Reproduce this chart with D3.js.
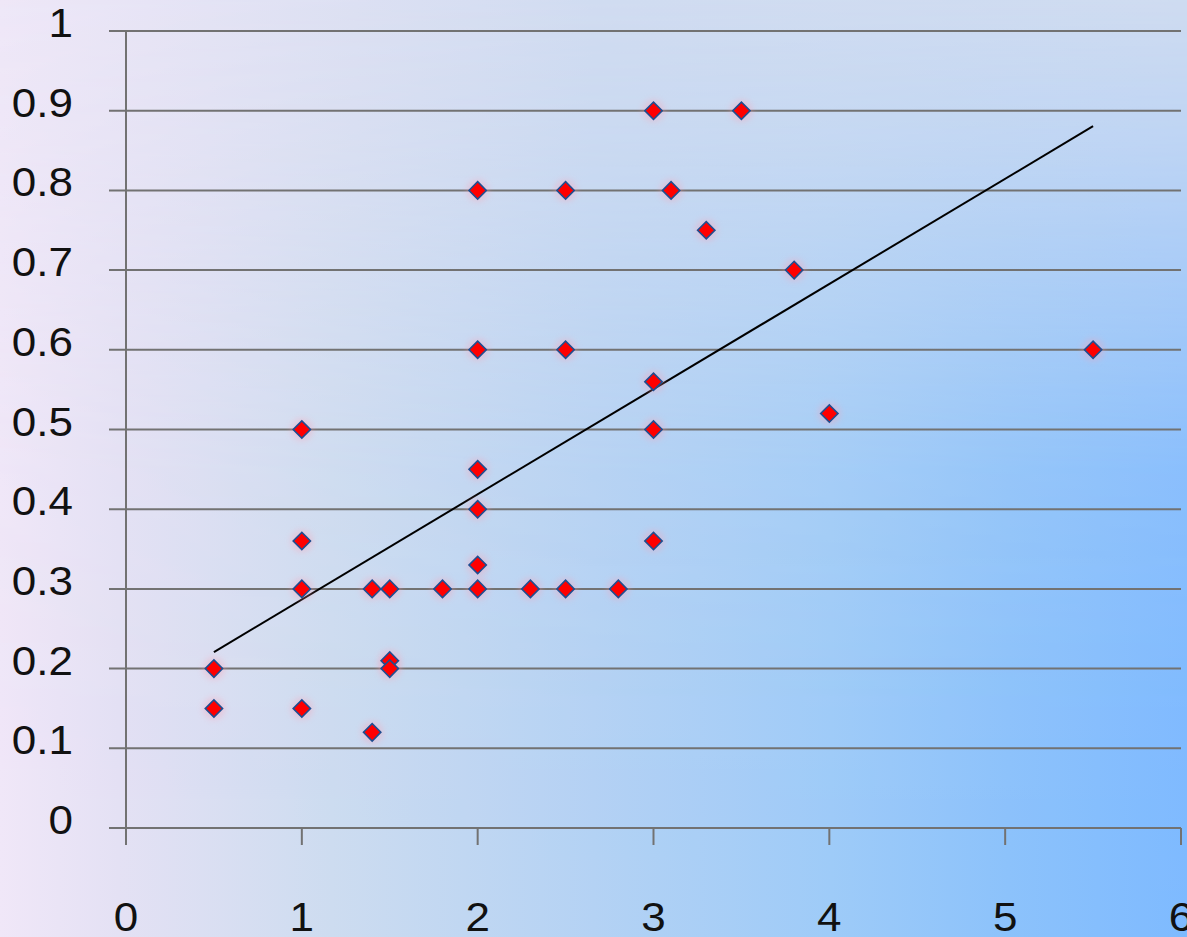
<!DOCTYPE html>
<html>
<head>
<meta charset="utf-8">
<script src="https://cdn.jsdelivr.net/npm/d3@7/dist/d3.min.js"></script>
<style>
html,body{margin:0;padding:0;background:#fff;}
svg{display:block;}
text{font-family:"Liberation Sans",Arial,sans-serif;fill:#111;}
</style>
</head>
<body>
<svg id="chart" width="1187" height="937"></svg>
<script>
// ---- data ----
const xValues = [0.5, 0.5, 1, 1, 1, 1, 1.4, 1.5, 1.5, 1.5, 1.4, 1.8, 2, 2, 2, 2, 2, 2, 2.3, 2.5, 2.5, 2.5, 2.8, 3, 3, 3, 3, 3.1, 3.3, 3.5, 3.8, 4, 5.5];
const yValues = [0.2, 0.15, 0.5, 0.36, 0.3, 0.15, 0.3, 0.3, 0.21, 0.2, 0.12, 0.3, 0.8, 0.6, 0.45, 0.4, 0.33, 0.3, 0.3, 0.8, 0.6, 0.3, 0.3, 0.9, 0.56, 0.5, 0.36, 0.8, 0.75, 0.9, 0.7, 0.52, 0.6];
const xTicks = [0, 1, 2, 3, 4, 5, 6];
const xTickLabels = ["0", "1", "2", "3", "4", "5", "6"];
const yTicks = [0, 0.1, 0.2, 0.3, 0.4, 0.5, 0.6, 0.7, 0.8, 0.9, 1];
const yTickLabels = ["0", "0.1", "0.2", "0.3", "0.4", "0.5", "0.6", "0.7", "0.8", "0.9", "1"];

const W = 1187, H = 937;
const svg = d3.select("#chart");
const defs = svg.append("defs");

// background gradients
const base = defs.append("linearGradient").attr("id", "bgBase")
  .attr("x1", 0).attr("y1", 0).attr("x2", 1).attr("y2", 0);
[[0, "#f0e7f8"], [0.1, "#e4e1f4"], [0.28, "#cddcf0"], [0.5, "#b4d2f4"], [0.7, "#9ecbf8"], [0.85, "#8cc2fb"], [1, "#7ebaff"]]
  .forEach(([o, c]) => base.append("stop").attr("offset", o).attr("stop-color", c));

const over = defs.append("linearGradient").attr("id", "bgOver")
  .attr("x1", 0).attr("y1", 0).attr("x2", 1).attr("y2", 0);
[[0, "#eee7f7"], [0.3, "#dde0f2"], [0.5, "#d2dcf0"], [1, "#d3ddf0"]]
  .forEach(([o, c]) => over.append("stop").attr("offset", o).attr("stop-color", c));

const mg = defs.append("linearGradient").attr("id", "maskGrad")
  .attr("x1", 0).attr("y1", 0).attr("x2", 0).attr("y2", 1);
[[0, 0.95], [0.15, 0.75], [0.35, 0.4], [0.5, 0.15], [0.75, 0.03], [1, 0]]
  .forEach(([o, a]) => mg.append("stop").attr("offset", o).attr("stop-color", "#fff").attr("stop-opacity", a));
defs.append("mask").attr("id", "overMask")
  .append("rect").attr("width", W).attr("height", H).attr("fill", "url(#maskGrad)");

const blur = defs.append("filter").attr("id", "halo").attr("x", "-50%").attr("y", "-50%").attr("width", "200%").attr("height", "200%");
blur.append("feGaussianBlur").attr("stdDeviation", 3);

svg.append("rect").attr("width", W).attr("height", H).attr("fill", "url(#bgBase)");
svg.append("rect").attr("width", W).attr("height", H).attr("fill", "url(#bgOver)").attr("mask", "url(#overMask)");

// scales
const x = d3.scaleLinear().domain([0, 6]).range([126, 1181]);
const y = d3.scaleLinear().domain([0, 1]).range([828, 31]);

const gridColor = "#727272";

// horizontal gridlines (extend left as tick marks)
svg.append("g").selectAll("line").data(yTicks).join("line")
  .attr("x1", x(0) - 17).attr("x2", x(6))
  .attr("y1", d => y(d)).attr("y2", d => y(d))
  .attr("stroke", gridColor).attr("stroke-width", 2);

// vertical axis line
svg.append("line").attr("x1", x(0)).attr("x2", x(0))
  .attr("y1", y(1)).attr("y2", y(0) + 17)
  .attr("stroke", gridColor).attr("stroke-width", 2);

// x tick marks
svg.append("g").selectAll("line").data(xTicks).join("line")
  .attr("x1", d => x(d)).attr("x2", d => x(d))
  .attr("y1", y(0)).attr("y2", y(0) + 17)
  .attr("stroke", gridColor).attr("stroke-width", 2);

// y labels
svg.append("g").selectAll("text").data(yTicks).join("text")
  .attr("transform", d => `translate(73,${y(d) + 6}) scale(1.1,1)`)
  .attr("text-anchor", "end")
  .attr("font-size", 40)
  .text((d, i) => yTickLabels[i]);

// x labels
svg.append("g").selectAll("text").data(xTicks).join("text")
  .attr("transform", d => `translate(${x(d)},931) scale(1.1,1)`)
  .attr("text-anchor", "middle")
  .attr("font-size", 40)
  .text((d, i) => xTickLabels[i]);

// linear regression trend line
const n = xValues.length;
const mx = d3.mean(xValues), my = d3.mean(yValues);
let sxy = 0, sxx = 0;
for (let i = 0; i < n; i++) { sxy += (xValues[i] - mx) * (yValues[i] - my); sxx += (xValues[i] - mx) ** 2; }
const slope = sxy / sxx, intercept = my - slope * mx;
const xmin = d3.min(xValues), xmax = d3.max(xValues);
svg.append("line")
  .attr("x1", x(xmin)).attr("y1", y(intercept + slope * xmin))
  .attr("x2", x(xmax)).attr("y2", y(intercept + slope * xmax))
  .attr("stroke", "#000").attr("stroke-width", 2);

// points
const pts = xValues.map((v, i) => [v, yValues[i]]);
svg.append("g").selectAll("circle").data(pts).join("circle")
  .attr("cx", d => x(d[0])).attr("cy", d => y(d[1])).attr("r", 11)
  .attr("fill", "#ff9db0").attr("opacity", 0.35).attr("filter", "url(#halo)");

const diamond = d3.symbol().type(d3.symbolSquare).size(150);
svg.append("g").selectAll("path").data(pts).join("path")
  .attr("d", diamond)
  .attr("transform", d => `translate(${x(d[0])},${y(d[1])}) rotate(45)`)
  .attr("fill", "#ff0000")
  .attr("stroke", "#1f4e91")
  .attr("stroke-width", 1.6);
</script>
</body>
</html>
